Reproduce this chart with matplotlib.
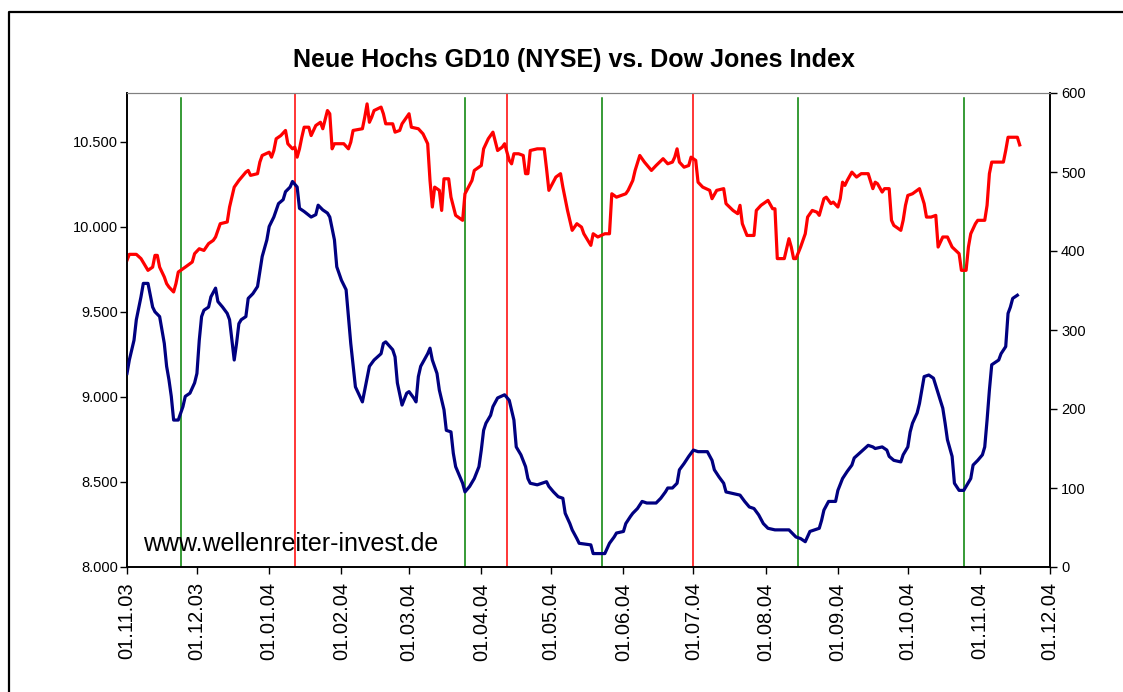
import matplotlib
matplotlib.use("Agg")
import matplotlib.pyplot as plt
import matplotlib.dates as mdates
from matplotlib.lines import Line2D
import pandas as pd

plt.rcParams["font.family"] = ["Liberation Sans", "DejaVu Sans"]

# Dow Jones Index (left axis)
dow_dates = [
    "2003-11-01", "2003-11-02", "2003-11-05", "2003-11-07", "2003-11-10", "2003-11-12",
    "2003-11-13", "2003-11-14", "2003-11-15", "2003-11-17", "2003-11-18", "2003-11-19",
    "2003-11-21", "2003-11-22", "2003-11-23", "2003-11-26", "2003-11-29", "2003-11-30",
    "2003-12-02", "2003-12-04", "2003-12-06", "2003-12-08", "2003-12-09", "2003-12-11",
    "2003-12-14", "2003-12-15", "2003-12-17", "2003-12-19", "2003-12-22", "2003-12-23",
    "2003-12-24", "2003-12-27", "2003-12-28", "2003-12-29", "2004-01-01", "2004-01-02",
    "2004-01-03", "2004-01-04", "2004-01-06", "2004-01-08", "2004-01-09", "2004-01-11",
    "2004-01-12", "2004-01-13", "2004-01-14", "2004-01-15", "2004-01-16", "2004-01-18",
    "2004-01-19", "2004-01-21", "2004-01-23", "2004-01-24", "2004-01-26", "2004-01-27",
    "2004-01-28", "2004-01-29", "2004-02-02", "2004-02-04", "2004-02-05", "2004-02-06",
    "2004-02-10", "2004-02-11", "2004-02-12", "2004-02-13", "2004-02-14", "2004-02-15",
    "2004-02-18", "2004-02-19", "2004-02-20", "2004-02-23", "2004-02-24", "2004-02-26",
    "2004-02-27", "2004-03-01", "2004-03-02", "2004-03-05", "2004-03-07", "2004-03-09",
    "2004-03-10", "2004-03-11", "2004-03-12", "2004-03-14", "2004-03-15", "2004-03-16",
    "2004-03-18", "2004-03-19", "2004-03-21", "2004-03-24", "2004-03-25", "2004-03-28",
    "2004-03-29", "2004-04-01", "2004-04-02", "2004-04-04", "2004-04-06", "2004-04-08",
    "2004-04-10", "2004-04-11", "2004-04-13", "2004-04-14", "2004-04-15", "2004-04-17",
    "2004-04-19", "2004-04-20", "2004-04-21", "2004-04-22", "2004-04-25", "2004-04-28",
    "2004-04-29", "2004-04-30", "2004-05-03", "2004-05-05", "2004-05-06", "2004-05-08",
    "2004-05-10", "2004-05-12", "2004-05-14", "2004-05-15", "2004-05-18", "2004-05-19",
    "2004-05-21", "2004-05-24", "2004-05-26", "2004-05-27", "2004-05-29", "2004-06-02",
    "2004-06-03", "2004-06-05", "2004-06-06", "2004-06-08", "2004-06-10", "2004-06-13",
    "2004-06-15", "2004-06-18", "2004-06-20", "2004-06-22", "2004-06-23", "2004-06-24",
    "2004-06-25", "2004-06-27", "2004-06-29", "2004-06-30", "2004-07-02", "2004-07-03",
    "2004-07-05", "2004-07-08", "2004-07-09", "2004-07-11", "2004-07-14", "2004-07-15",
    "2004-07-18", "2004-07-20", "2004-07-21", "2004-07-22", "2004-07-24", "2004-07-27",
    "2004-07-28", "2004-07-30", "2004-08-02", "2004-08-04", "2004-08-05", "2004-08-06",
    "2004-08-09", "2004-08-11", "2004-08-12", "2004-08-13", "2004-08-14", "2004-08-16",
    "2004-08-18", "2004-08-19", "2004-08-21", "2004-08-23", "2004-08-24", "2004-08-26",
    "2004-08-27", "2004-08-29", "2004-08-30", "2004-09-01", "2004-09-02", "2004-09-03",
    "2004-09-04", "2004-09-05", "2004-09-07", "2004-09-09", "2004-09-11", "2004-09-14",
    "2004-09-16", "2004-09-17", "2004-09-18", "2004-09-20", "2004-09-21", "2004-09-23",
    "2004-09-24", "2004-09-25", "2004-09-28", "2004-09-29", "2004-09-30", "2004-10-01",
    "2004-10-03", "2004-10-05", "2004-10-06", "2004-10-08", "2004-10-09", "2004-10-11",
    "2004-10-13", "2004-10-14", "2004-10-16", "2004-10-18", "2004-10-20", "2004-10-23",
    "2004-10-24", "2004-10-26", "2004-10-27", "2004-10-28", "2004-10-30", "2004-10-31",
    "2004-11-03", "2004-11-04", "2004-11-05", "2004-11-06", "2004-11-11", "2004-11-12",
    "2004-11-13", "2004-11-17", "2004-11-18",
]
dow_values = [
    9802, 9837, 9837, 9812, 9743, 9762,
    9831, 9831, 9762, 9704, 9665, 9645,
    9616, 9665, 9733, 9762, 9792, 9841,
    9870, 9860, 9900, 9919, 9939, 10017,
    10027, 10115, 10232, 10271, 10320, 10330,
    10301, 10311, 10379, 10418, 10437, 10408,
    10447, 10516, 10535, 10565, 10487, 10457,
    10467, 10408, 10457, 10525, 10584, 10584,
    10535, 10594, 10613, 10575, 10682, 10663,
    10457, 10487, 10487, 10457, 10496, 10565,
    10575, 10643, 10721, 10613, 10643, 10682,
    10702, 10663, 10604, 10604, 10555, 10565,
    10604, 10663, 10584, 10575, 10545, 10487,
    10271, 10115, 10232, 10213, 10095, 10281,
    10281, 10173, 10066, 10037, 10193, 10271,
    10330, 10359, 10457, 10516, 10555, 10447,
    10467, 10487, 10389, 10369, 10428, 10428,
    10418, 10311, 10311, 10447, 10457, 10457,
    10340, 10213, 10291, 10311, 10232, 10095,
    9978, 10017, 9997, 9958, 9890, 9958,
    9939, 9958, 9958, 10193, 10173, 10193,
    10213, 10271, 10330, 10418, 10379, 10330,
    10359, 10399, 10369, 10379, 10408, 10457,
    10379, 10349, 10359, 10408, 10389, 10261,
    10232, 10213, 10164, 10213, 10223, 10135,
    10095, 10076, 10125, 10017, 9948, 9948,
    10095, 10125, 10154, 10105, 10105, 9812,
    9812, 9929, 9880, 9812, 9812, 9880,
    9958, 10056, 10095, 10085, 10066, 10164,
    10173, 10135, 10144, 10115, 10164, 10261,
    10242, 10271, 10320, 10291, 10311, 10311,
    10223, 10261, 10252, 10203, 10223, 10223,
    10037, 10007, 9978, 10037, 10125, 10183,
    10193, 10213, 10223, 10135, 10056, 10056,
    10066, 9880, 9939, 9939, 9880, 9841,
    9743, 9743, 9880, 9958, 10017, 10037,
    10037, 10125, 10311, 10379, 10379, 10447,
    10525, 10525, 10480,
]

# Neue Hochs GD10 (right axis)
nh_dates = [
    "2003-11-01", "2003-11-02", "2003-11-04", "2003-11-05", "2003-11-07", "2003-11-08",
    "2003-11-10", "2003-11-12", "2003-11-13", "2003-11-15", "2003-11-17", "2003-11-18",
    "2003-11-19", "2003-11-20", "2003-11-21", "2003-11-23", "2003-11-25", "2003-11-26",
    "2003-11-28", "2003-11-30", "2003-12-01", "2003-12-02", "2003-12-03", "2003-12-04",
    "2003-12-06", "2003-12-07", "2003-12-09", "2003-12-10", "2003-12-12", "2003-12-14",
    "2003-12-15", "2003-12-17", "2003-12-18", "2003-12-19", "2003-12-20", "2003-12-22",
    "2003-12-23", "2003-12-25", "2003-12-27", "2003-12-28", "2003-12-29", "2003-12-31",
    "2004-01-01", "2004-01-03", "2004-01-05", "2004-01-07", "2004-01-08", "2004-01-10",
    "2004-01-11", "2004-01-13", "2004-01-14", "2004-01-16", "2004-01-19", "2004-01-21",
    "2004-01-22", "2004-01-24", "2004-01-26", "2004-01-27", "2004-01-29", "2004-01-30",
    "2004-02-01", "2004-02-03", "2004-02-04", "2004-02-05", "2004-02-07", "2004-02-10",
    "2004-02-11", "2004-02-13", "2004-02-15", "2004-02-18", "2004-02-19", "2004-02-20",
    "2004-02-23", "2004-02-24", "2004-02-25", "2004-02-27", "2004-02-29", "2004-03-01",
    "2004-03-03", "2004-03-04", "2004-03-05", "2004-03-06", "2004-03-09", "2004-03-10",
    "2004-03-11", "2004-03-13", "2004-03-14", "2004-03-16", "2004-03-17", "2004-03-19",
    "2004-03-20", "2004-03-21", "2004-03-24", "2004-03-25", "2004-03-27", "2004-03-29",
    "2004-03-31", "2004-04-01", "2004-04-02", "2004-04-03", "2004-04-05", "2004-04-06",
    "2004-04-08", "2004-04-11", "2004-04-13", "2004-04-15", "2004-04-16", "2004-04-18",
    "2004-04-20", "2004-04-21", "2004-04-22", "2004-04-25", "2004-04-27", "2004-04-29",
    "2004-04-30", "2004-05-02", "2004-05-04", "2004-05-06", "2004-05-07", "2004-05-09",
    "2004-05-10", "2004-05-12", "2004-05-13", "2004-05-18", "2004-05-19", "2004-05-24",
    "2004-05-26", "2004-05-28", "2004-05-29", "2004-06-01", "2004-06-02", "2004-06-04",
    "2004-06-05", "2004-06-07", "2004-06-09", "2004-06-11", "2004-06-15", "2004-06-17",
    "2004-06-19", "2004-06-20", "2004-06-22", "2004-06-24", "2004-06-25", "2004-06-27",
    "2004-06-29", "2004-07-01", "2004-07-03", "2004-07-07", "2004-07-09", "2004-07-10",
    "2004-07-12", "2004-07-14", "2004-07-15", "2004-07-18", "2004-07-21", "2004-07-23",
    "2004-07-25", "2004-07-27", "2004-07-29", "2004-07-31", "2004-08-02", "2004-08-05",
    "2004-08-11", "2004-08-14", "2004-08-16", "2004-08-18", "2004-08-20", "2004-08-22",
    "2004-08-24", "2004-08-25", "2004-08-26", "2004-08-28", "2004-08-31", "2004-09-01",
    "2004-09-03", "2004-09-05", "2004-09-07", "2004-09-08", "2004-09-11", "2004-09-14",
    "2004-09-16", "2004-09-17", "2004-09-20", "2004-09-22", "2004-09-23", "2004-09-25",
    "2004-09-28", "2004-09-29", "2004-10-01", "2004-10-02", "2004-10-03", "2004-10-05",
    "2004-10-06", "2004-10-08", "2004-10-10", "2004-10-12", "2004-10-14", "2004-10-16",
    "2004-10-17", "2004-10-18", "2004-10-20", "2004-10-21", "2004-10-23", "2004-10-25",
    "2004-10-26", "2004-10-28", "2004-10-29", "2004-10-31", "2004-11-02", "2004-11-03",
    "2004-11-04", "2004-11-05", "2004-11-06", "2004-11-09", "2004-11-10", "2004-11-12",
    "2004-11-13", "2004-11-14", "2004-11-15", "2004-11-17",
]
nh_values = [
    245, 262, 287, 313, 342, 359,
    359, 329, 323, 317, 283, 254,
    237, 216, 186, 186, 203, 216,
    220, 233, 245, 287, 317, 325,
    329, 342, 353, 336, 329, 321,
    313, 262, 283, 308, 313, 317,
    340, 346, 355, 374, 393, 414,
    431, 443, 460, 465, 475, 481,
    488, 481, 454, 450, 443, 446,
    458, 452, 448, 443, 414, 380,
    363, 351, 317, 283, 228, 209,
    224, 254, 262, 270, 283, 285,
    275, 266, 233, 205, 220, 222,
    214, 209, 241, 254, 270, 277,
    262, 245, 224, 199, 173, 171,
    144, 127, 106, 95, 102, 112,
    127, 148, 173, 182, 192, 203,
    214, 218, 211, 186, 152, 142,
    127, 112, 106, 104, 106, 108,
    102, 95, 89, 87, 68, 55,
    47, 36, 30, 28, 17, 17,
    30, 38, 43, 45, 55, 64,
    68, 74, 83, 81, 81, 87,
    95, 100, 100, 106, 123, 131,
    140, 148, 146, 146, 135, 123,
    114, 106, 95, 93, 91, 83,
    76, 74, 66, 55, 49, 47,
    47, 38, 36, 32, 45, 47,
    49, 59, 72, 83, 83, 97,
    112, 121, 129, 138, 146, 154,
    152, 150, 152, 148, 140, 135,
    133, 142, 152, 171, 182, 195,
    207, 241, 243, 239, 220, 201,
    182, 161, 140, 106, 97, 97,
    102, 112, 129, 135, 142, 152,
    186, 224, 256, 262, 270, 279,
    321, 329, 340, 344,
]

# marker lines
green_dates = ["2003-11-24", "2004-03-25", "2004-05-23", "2004-08-15", "2004-10-25"]
red_dates = ["2004-01-12", "2004-04-12", "2004-07-01"]

dow_x = pd.to_datetime(dow_dates)
nh_x = pd.to_datetime(nh_dates)

fig = plt.figure(figsize=(11.23, 6.92), dpi=100)
ax = fig.add_axes([127 / 1123, 1 - 567 / 692, 923 / 1123, 474 / 692])
ax2 = ax.twinx()

for d in green_dates:
    ax.axvline(pd.Timestamp(d), ymin=0, ymax=0.99, color="#008000", lw=1.1, zorder=1)
for d in red_dates:
    ax.axvline(pd.Timestamp(d), ymin=0, ymax=1, color="#ff0000", lw=1.1, zorder=1)

ax.plot(dow_x, dow_values, color="#ff0000", lw=2.3, zorder=3)
ax2.plot(nh_x, nh_values, color="#000080", lw=2.3, zorder=3)

ax.set_xlim(pd.Timestamp("2003-11-01"), pd.Timestamp("2004-12-01"))
ax.set_ylim(8000, 10785)
ax2.set_ylim(0, 600)

ax.set_yticks(range(8000, 10501, 500))
ax.set_yticklabels([f"{v:,}".replace(",", ".") for v in range(8000, 10501, 500)])
ax2.set_yticks(range(0, 601, 100))

ax.xaxis.set_major_locator(mdates.MonthLocator())
ax.xaxis.set_major_formatter(mdates.DateFormatter("%d.%m.%y"))
for lbl in ax.get_xticklabels():
    lbl.set_rotation(90)

ax.tick_params(axis="x", direction="out", length=5, width=1, labelsize=14.5, pad=6)
ax.tick_params(axis="y", direction="out", length=5, width=1, labelsize=10.5, pad=1.5)
ax2.tick_params(axis="y", direction="out", length=5, width=1, labelsize=10.5, pad=3)

for a in (ax, ax2):
    a.spines["top"].set_color("#808080")
    for s in ("left", "right", "bottom"):
        a.spines[s].set_color("black")
        a.spines[s].set_linewidth(1.2)

fig.text(574 / 1123, 1 - 60 / 692, "Neue Hochs GD10 (NYSE) vs. Dow Jones Index",
         ha="center", va="center", fontsize=18, fontweight="bold")
fig.text(143 / 1123, 1 - 551 / 692, "www.wellenreiter-invest.de",
         ha="left", va="baseline", fontsize=18)

# outer chart border
fig.add_artist(Line2D([9 / 1123, 9 / 1123, 1.0], [0.0, 1 - 12 / 692, 1 - 12 / 692],
                      transform=fig.transFigure, color="black", lw=1.6))

fig.savefig("out.png", dpi=100)
